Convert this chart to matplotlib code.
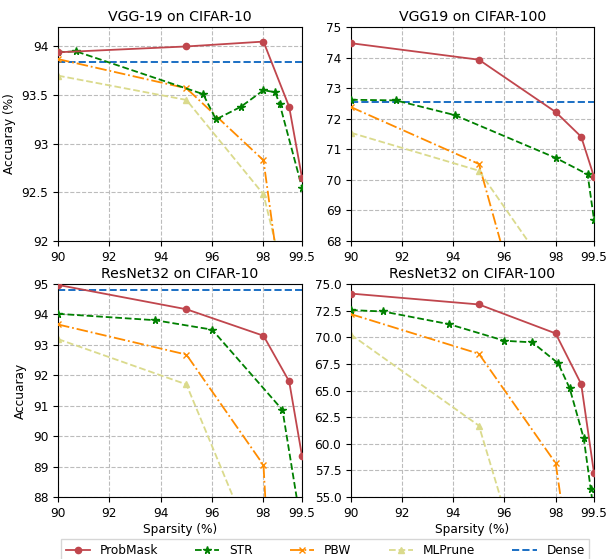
import numpy as np
import matplotlib
matplotlib.use('Agg')
import matplotlib.pyplot as plt

# VGG-19 / CIFAR-10
v10_pm_x = [90, 95, 98, 99, 99.5]
v10_pm_y = [93.94, 94.0, 94.05, 93.38, 92.65]
v10_str_x = [90, 90.7, 95.65, 96.15, 97.12, 98, 98.45, 98.63, 99.5]
v10_str_y = [93.94, 93.95, 93.51, 93.25, 93.38, 93.55, 93.53, 93.41, 92.55]
v10_pbw_x = [90, 95, 98, 99]
v10_pbw_y = [93.87, 93.57, 92.83, 90.9]
v10_ml_x = [90, 95, 98, 99]
v10_ml_y = [93.7, 93.45, 92.48, 91.4]
v10_dense = 93.84

# VGG19 / CIFAR-100
v100_pm_x = [90, 95, 98, 99, 99.5]
v100_pm_y = [74.47, 73.93, 72.22, 71.41, 70.1]
v100_str_x = [90, 91.75, 94.05, 98, 99.25, 99.5]
v100_str_y = [72.62, 72.6, 72.12, 70.72, 70.18, 68.7]
v100_pbw_x = [90, 95, 98]
v100_pbw_y = [72.38, 70.52, 61.5]
v100_ml_x = [90, 95, 98]
v100_ml_y = [71.54, 70.3, 66.7]
v100_dense = 72.56

# ResNet32 / CIFAR-10
r10_pm_x = [90, 95, 98, 99, 99.5]
r10_pm_y = [94.97, 94.17, 93.3, 91.8, 89.35]
r10_str_x = [90, 93.78, 96, 98.74, 99.5]
r10_str_y = [94.02, 93.81, 93.5, 90.86, 86.9]
r10_pbw_x = [90, 95, 98, 98.5]
r10_pbw_y = [93.67, 92.68, 89.05, 81.5]
r10_ml_x = [90, 95, 98]
r10_ml_y = [93.19, 91.7, 85.6]
r10_dense = 94.79

# ResNet32 / CIFAR-100
r100_pm_x = [90, 95, 98, 99, 99.5]
r100_pm_y = [74.1, 73.08, 70.36, 65.6, 57.25]
r100_str_x = [90, 91.25, 93.83, 96, 97.09, 98.1, 98.55, 99.1, 99.37, 99.5]
r100_str_y = [72.55, 72.42, 71.23, 69.67, 69.52, 67.55, 65.2, 60.5, 55.78, 53.5]
r100_pbw_x = [90, 95, 98, 98.5]
r100_pbw_y = [72.17, 68.45, 58.18, 50.0]
r100_ml_x = [90, 95, 96]
r100_ml_y = [70.24, 61.7, 53.7]

xticks = [90, 92, 94, 96, 98, 99.5]
xticklabels = ['90', '92', '94', '96', '98', '99.5']

c_pm = '#c0464d'
c_str = 'green'
c_pbw = 'darkorange'
c_ml = '#dada8c'
c_dense = '#1a6fc4'

fs_tick = 8.7
fs_title = 10.2

fig = plt.figure(figsize=(6.1, 5.59), dpi=100)
W, H = 610.0, 559.0

def make_ax(l, t, r, b):
    return fig.add_axes([l / W, 1 - b / H, (r - l) / W, (b - t) / H])

panels = [
    (make_ax(58, 27, 302, 241), 'VGG-19 on CIFAR-10', (92, 94.2), [92, 92.5, 93, 93.5, 94], ['92', '92.5', '93', '93.5', '94'],
     (v10_pm_x, v10_pm_y), (v10_str_x, v10_str_y), (v10_pbw_x, v10_pbw_y), (v10_ml_x, v10_ml_y), v10_dense,
     'Accuaray (%)', None),
    (make_ax(351, 27, 594, 241), 'VGG19 on CIFAR-100', (68, 75), [68, 69, 70, 71, 72, 73, 74, 75], None,
     (v100_pm_x, v100_pm_y), (v100_str_x, v100_str_y), (v100_pbw_x, v100_pbw_y), (v100_ml_x, v100_ml_y), v100_dense,
     None, None),
    (make_ax(58, 284, 302, 497), 'ResNet32 on CIFAR-10', (88, 95), [88, 89, 90, 91, 92, 93, 94, 95], None,
     (r10_pm_x, r10_pm_y), (r10_str_x, r10_str_y), (r10_pbw_x, r10_pbw_y), (r10_ml_x, r10_ml_y), r10_dense,
     'Accuaray', 'Sparsity (%)'),
    (make_ax(351, 284, 594, 497), 'ResNet32 on CIFAR-100', (55, 75), [55, 57.5, 60, 62.5, 65, 67.5, 70, 72.5, 75],
     ['55.0', '57.5', '60.0', '62.5', '65.0', '67.5', '70.0', '72.5', '75.0'],
     (r100_pm_x, r100_pm_y), (r100_str_x, r100_str_y), (r100_pbw_x, r100_pbw_y), (r100_ml_x, r100_ml_y), None,
     None, 'Sparsity (%)'),
]

for ax, title, ylim, yt, ytl, pm, st, pb, ml, dense, ylab, xlab in panels:
    ax.plot(pm[0], pm[1], '-o', color=c_pm, ms=4.5, lw=1.3, label='ProbMask', zorder=5)
    ax.plot(st[0], st[1], '--*', color=c_str, ms=5.5, lw=1.3, label='STR', zorder=4)
    ax.plot(pb[0], pb[1], '-.x', color=c_pbw, ms=4.5, lw=1.3, label='PBW', zorder=3)
    ax.plot(ml[0], ml[1], '--^', color=c_ml, ms=4.5, lw=1.3, label='MLPrune', zorder=2)
    if dense is not None:
        ax.axhline(dense, ls='--', color=c_dense, lw=1.4, label='Dense', zorder=1)
    ax.set_xlim(90, 99.5)
    ax.set_ylim(*ylim)
    ax.set_xticks(xticks)
    ax.set_xticklabels(xticklabels)
    ax.set_yticks(yt)
    if ytl is not None:
        ax.set_yticklabels(ytl)
    ax.tick_params(labelsize=fs_tick, length=3.5)
    ax.grid(True, ls='--', color='#bcbcbc', lw=0.8)
    ax.set_title(title, fontsize=fs_title, pad=4)
    if ylab:
        ax.set_ylabel(ylab, fontsize=fs_tick)
    if xlab:
        ax.set_xlabel(xlab, fontsize=fs_tick, labelpad=2)

handles = [
    plt.Line2D([], [], color=c_pm, marker='o', ls='-', ms=4.5, lw=1.3),
    plt.Line2D([], [], color=c_str, marker='*', ls='--', ms=5.5, lw=1.3),
    plt.Line2D([], [], color=c_pbw, marker='x', ls='-.', ms=4.5, lw=1.3),
    plt.Line2D([], [], color=c_ml, marker='^', ls='--', ms=4.5, lw=1.3),
    plt.Line2D([], [], color=c_dense, ls='--', lw=1.4),
]
fig.legend(handles, ['ProbMask', 'STR', 'PBW', 'MLPrune', 'Dense'], loc='upper center',
           bbox_to_anchor=(325 / W, 1 - 539 / H), ncol=5, fontsize=fs_tick, columnspacing=3.1,
           handlelength=2.0, fancybox=False, edgecolor='#cccccc', borderaxespad=0)

fig.savefig('out.png', dpi=100)
